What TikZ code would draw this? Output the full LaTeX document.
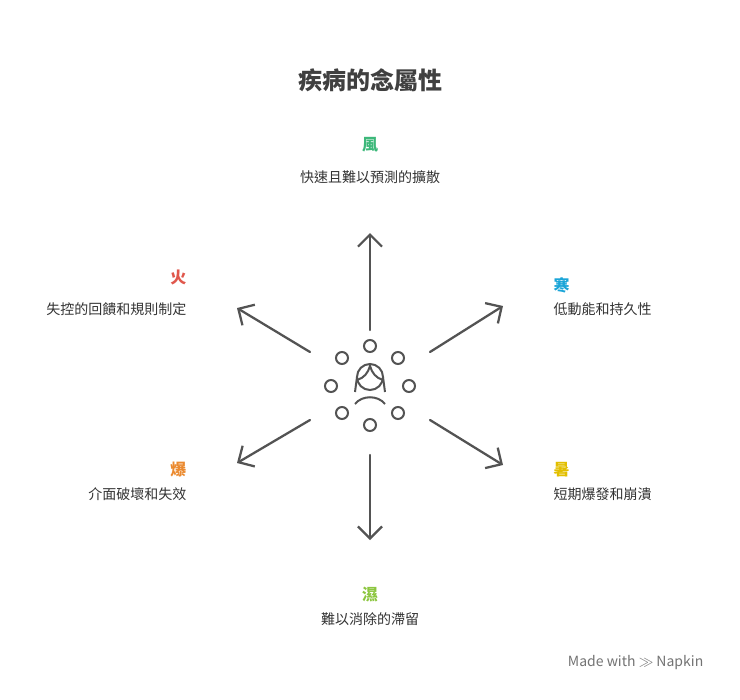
\documentclass[tikz,border=0pt]{standalone}
\usetikzlibrary{arrows.meta}
\usepackage{fontspec}
\setmainfont{Noto Sans CJK TC}
\begin{document}
\begin{tikzpicture}[x=0.75pt,y=-0.75pt,
  arr/.style={draw=gray!20!black!75, line width=1.7pt, line cap=round, -{Straight Barb[length=9pt,width=18pt,line width=1.7pt]}},
  ic/.style={draw=gray!20!black!75, line width=1.5pt},
  hd/.style={font=\bfseries\fontsize{12}{14}\selectfont},
  tx/.style={font=\fontsize{10.5}{12}\selectfont, text=black!80}]
\useasboundingbox (0,0) rectangle (740,700);
\fill[white] (0,0) rectangle (740,700);
\node (title) at (370,80) {\bfseries\fontsize{18}{20}\selectfont\color{black!75}疾病的念屬性};
\definecolor{cg}{HTML}{3DB87A}\definecolor{cr}{HTML}{E0574C}\definecolor{cb}{HTML}{1BA5D8}
\definecolor{co}{HTML}{EB8A2F}\definecolor{cy}{HTML}{E2BF00}\definecolor{cl}{HTML}{8CC63F}
\node[hd,text=cg] (h1) at (370,145) {風};
\node[tx] (t1) at (370,177) {快速且難以預測的擴散};
\node[hd,text=cr,anchor=east] (h2) at (191,277) {火};
\node[tx,anchor=east] (t2) at (191,309) {失控的回饋和規則制定};
\node[hd,text=cb,anchor=west] (h3) at (549,285) {寒};
\node[tx,anchor=west] (t3) at (549,309) {低動能和持久性};
\node[hd,text=co,anchor=east] (h4) at (191,470) {爆};
\node[tx,anchor=east] (t4) at (191,494) {介面破壞和失效};
\node[hd,text=cy,anchor=west] (h5) at (549,470) {暑};
\node[tx,anchor=west] (t5) at (549,494) {短期爆發和崩潰};
\node[hd,text=cl] (h6) at (370,595) {濕};
\node[tx] (t6) at (370,619) {難以消除的滯留};
\coordinate (a1s) at (370,330); \coordinate (a1e) at (370,233);
\coordinate (a2s) at (310,352); \coordinate (a2e) at (237,308);
\coordinate (a3s) at (430,352); \coordinate (a3e) at (503,306);
\coordinate (a4s) at (310,420); \coordinate (a4e) at (237,463);
\coordinate (a5s) at (430,420); \coordinate (a5e) at (503,465);
\coordinate (a6s) at (370,455); \coordinate (a6e) at (370,540);
\foreach \i in {1,...,6} \draw[arr] (a\i s) -- (a\i e);
\foreach \p in {(370,346),(370,425),(331,386),(409,386),(342,358),(398,358),(342,413),(398,413)}
  \draw[ic] \p circle (6);
\draw[ic] (370,377) circle (13);
\draw[ic] (357,380) .. controls (364,378) and (368,373) .. (370,366) .. controls (372,373) and (376,378) .. (383,380);
\draw[ic] (357,377) -- (355,392);
\draw[ic] (383,377) -- (385,392);
\draw[ic] (355,404) .. controls (362,395) and (378,395) .. (385,404);
\node[anchor=east,text=black!55,font=\fontsize{10.5}{12}\selectfont] (logo) at (708,663) {Made with $\gg$ Napkin};
\end{tikzpicture}
\end{document}
